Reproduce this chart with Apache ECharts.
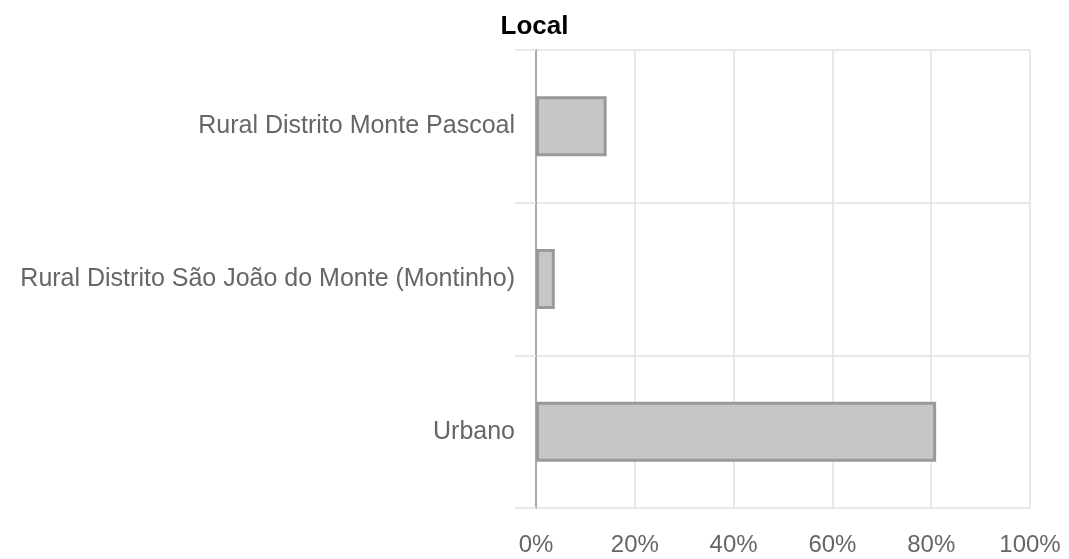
<!DOCTYPE html>
<html>
<head>
<meta charset="utf-8">
<script src="https://cdn.jsdelivr.net/npm/echarts@6/dist/echarts.min.js"></script>
<style>
  html, body { margin: 0; padding: 0; background: #fff; }
  #chart { width: 1069px; height: 559px; }
</style>
</head>
<body>
<div id="chart"></div>
<script>
// categorias (de cima para baixo)
var categorias = [
  'Rural Distrito Monte Pascoal',
  'Rural Distrito São João do Monte (Montinho)',
  'Urbano'
]
// percentuais (0..1)
var valores = [0.143, 0.038, 0.81]
var ticksX = [0, 0.2, 0.4, 0.6, 0.8, 1]

var chart = echarts.init(document.getElementById('chart'))

var option = {
  animation: false,
  title: {
    text: 'Local',
    left: 'center',
    top: 9,
    textStyle: {
      fontFamily: 'Liberation Sans, Arial',
      fontSize: 26,
      fontWeight: 'bold',
      color: '#000'
    }
  },
  grid: {
    left: 536,
    right: 39,
    top: 50,
    bottom: 51
  },
  xAxis: {
    type: 'value',
    min: ticksX[0],
    max: ticksX[ticksX.length - 1],
    interval: 0.2,
    axisLine: { show: false },
    axisTick: { show: false },
    axisLabel: {
      margin: 25,
      fontFamily: 'Liberation Sans, Arial',
      fontSize: 24,
      color: '#666',
      formatter: function (v) { return Math.round(v * 100) + '%' }
    },
    splitLine: { lineStyle: { color: '#e2e2e2', width: 1.5 } }
  },
  yAxis: {
    type: 'category',
    inverse: true,
    data: categorias,
    axisLine: { lineStyle: { color: '#aaa', width: 2 } },
    axisTick: { show: true, length: 21, interval: 0, lineStyle: { color: '#e2e2e2', width: 1.5 } },
    axisLabel: {
      margin: 21,
      fontFamily: 'Liberation Sans, Arial',
      fontSize: 25,
      color: '#666'
    },
    splitLine: { show: true, interval: 0, lineStyle: { color: '#e2e2e2', width: 1.5 } }
  },
  series: [{
    type: 'bar',
    data: valores,
    barWidth: 60,
    itemStyle: {
      color: '#c6c6c6',
      borderColor: '#999',
      borderWidth: 3
    }
  }]
}

chart.setOption(option)
</script>
</body>
</html>
